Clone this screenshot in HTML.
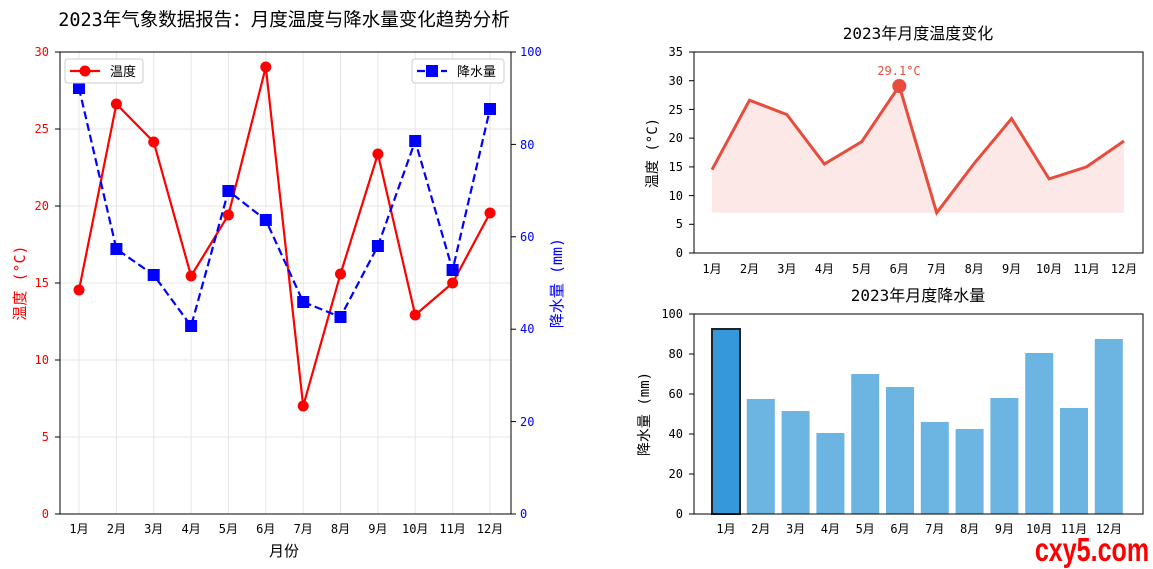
<!DOCTYPE html>
<html><head><meta charset="utf-8"><style>
html,body{margin:0;padding:0;background:#fff;}
svg{display:block;font-family:"DejaVu Sans Mono","Noto Sans CJK SC",monospace;}
</style></head><body>
<svg width="1153" height="569" viewBox="0 0 1153 569" xmlns="http://www.w3.org/2000/svg">
<text x="284" y="26" font-size="18.5" text-anchor="middle" fill="#000">2023年气象数据报告：月度温度与降水量变化趋势分析</text>

<!-- LEFT CHART -->
<g stroke="#e6e6e6" stroke-width="1">
<line x1="60" y1="437" x2="511" y2="437"/><line x1="60" y1="360" x2="511" y2="360"/><line x1="60" y1="283" x2="511" y2="283"/><line x1="60" y1="206" x2="511" y2="206"/><line x1="60" y1="129" x2="511" y2="129"/>
<line x1="79" y1="52" x2="79" y2="514"/><line x1="116.4" y1="52" x2="116.4" y2="514"/><line x1="153.7" y1="52" x2="153.7" y2="514"/><line x1="191.1" y1="52" x2="191.1" y2="514"/><line x1="228.4" y1="52" x2="228.4" y2="514"/><line x1="265.8" y1="52" x2="265.8" y2="514"/><line x1="303.2" y1="52" x2="303.2" y2="514"/><line x1="340.5" y1="52" x2="340.5" y2="514"/><line x1="377.9" y1="52" x2="377.9" y2="514"/><line x1="415.2" y1="52" x2="415.2" y2="514"/><line x1="452.6" y1="52" x2="452.6" y2="514"/><line x1="490" y1="52" x2="490" y2="514"/>
</g>
<rect x="60" y="52" width="451" height="462" fill="none" stroke="#000" stroke-width="1"/>
<g fill="red" font-size="12" text-anchor="end">
<text x="49" y="518">0</text><text x="49" y="441">5</text><text x="49" y="364">10</text><text x="49" y="287">15</text><text x="49" y="210">20</text><text x="49" y="133">25</text><text x="49" y="56">30</text>
</g>
<g stroke="#000"><line x1="55" y1="514" x2="60" y2="514"/><line x1="55" y1="437" x2="60" y2="437"/><line x1="55" y1="360" x2="60" y2="360"/><line x1="55" y1="283" x2="60" y2="283"/><line x1="55" y1="206" x2="60" y2="206"/><line x1="55" y1="129" x2="60" y2="129"/><line x1="55" y1="52" x2="60" y2="52"/>
<line x1="511" y1="514" x2="516" y2="514"/><line x1="511" y1="421.6" x2="516" y2="421.6"/><line x1="511" y1="329.2" x2="516" y2="329.2"/><line x1="511" y1="236.8" x2="516" y2="236.8"/><line x1="511" y1="144.4" x2="516" y2="144.4"/><line x1="511" y1="52" x2="516" y2="52"/></g>
<g fill="blue" font-size="12"><text x="520" y="518">0</text><text x="520" y="426">20</text><text x="520" y="333">40</text><text x="520" y="241">60</text><text x="520" y="149">80</text><text x="520" y="56">100</text></g>
<g font-size="12" text-anchor="middle" fill="#000">
<text x="79" y="533">1月</text><text x="116.4" y="533">2月</text><text x="153.7" y="533">3月</text><text x="191.1" y="533">4月</text><text x="228.4" y="533">5月</text><text x="265.8" y="533">6月</text><text x="303.2" y="533">7月</text><text x="340.5" y="533">8月</text><text x="377.9" y="533">9月</text><text x="415.2" y="533">10月</text><text x="452.6" y="533">11月</text><text x="490" y="533">12月</text>
</g>
<text x="284" y="556" font-size="15" text-anchor="middle">月份</text>
<text transform="translate(25,283) rotate(-90)" font-size="15" fill="red" text-anchor="middle">温度 (°C)</text>
<text transform="translate(562,283) rotate(-90)" font-size="15" fill="blue" text-anchor="middle">降水量 (mm)</text>

<polyline fill="none" stroke="red" stroke-width="2.2" points="79,290 116.4,104 153.7,142 191.1,276 228.4,215 265.8,67 303.2,406 340.5,274 377.9,154 415.2,315 452.6,283 490,213"/>
<g fill="red"><circle cx="79" cy="290" r="5.5"/><circle cx="116.4" cy="104" r="5.5"/><circle cx="153.7" cy="142" r="5.5"/><circle cx="191.1" cy="276" r="5.5"/><circle cx="228.4" cy="215" r="5.5"/><circle cx="265.8" cy="67" r="5.5"/><circle cx="303.2" cy="406" r="5.5"/><circle cx="340.5" cy="274" r="5.5"/><circle cx="377.9" cy="154" r="5.5"/><circle cx="415.2" cy="315" r="5.5"/><circle cx="452.6" cy="283" r="5.5"/><circle cx="490" cy="213" r="5.5"/></g>
<polyline fill="none" stroke="blue" stroke-width="2.2" stroke-dasharray="8,4" points="79,88 116.4,249 153.7,275 191.1,326 228.4,191 265.8,220 303.2,302 340.5,317 377.9,246 415.2,141 452.6,270 490,109"/>
<g fill="blue"><rect x="73" y="82" width="12" height="12"/><rect x="110.4" y="243" width="12" height="12"/><rect x="147.7" y="269" width="12" height="12"/><rect x="185.1" y="320" width="12" height="12"/><rect x="222.4" y="185" width="12" height="12"/><rect x="259.8" y="214" width="12" height="12"/><rect x="297.2" y="296" width="12" height="12"/><rect x="334.5" y="311" width="12" height="12"/><rect x="371.9" y="240" width="12" height="12"/><rect x="409.2" y="135" width="12" height="12"/><rect x="446.6" y="264" width="12" height="12"/><rect x="484" y="103" width="12" height="12"/></g>

<rect x="65" y="59" width="78" height="24" rx="3" fill="#fff" stroke="#ccc"/>
<line x1="70" y1="71" x2="100" y2="71" stroke="red" stroke-width="2.2"/><circle cx="85" cy="71" r="5.5" fill="red"/>
<text x="110" y="76" font-size="13">温度</text>
<rect x="412" y="59" width="92" height="24" rx="3" fill="#fff" stroke="#ccc"/>
<line x1="417" y1="71" x2="447" y2="71" stroke="blue" stroke-width="2.2" stroke-dasharray="8,4"/><rect x="426" y="65" width="12" height="12" fill="blue"/>
<text x="457" y="76" font-size="13">降水量</text>

<!-- TOP RIGHT -->
<text x="918" y="39" font-size="16" text-anchor="middle">2023年月度温度变化</text>
<polygon fill="#e74c3c" fill-opacity="0.12" points="712,169.7 749.5,100.2 786.9,114.6 824.4,164 861.8,141.6 899.3,85.9 936.7,212.8 974.2,163.4 1011.6,118.6 1049.1,178.9 1086.5,166.9 1124,141 1124,212.8 712,212.8"/>
<polyline fill="none" stroke="#e74c3c" stroke-width="3" points="712,169.7 749.5,100.2 786.9,114.6 824.4,164 861.8,141.6 899.3,85.9 936.7,212.8 974.2,163.4 1011.6,118.6 1049.1,178.9 1086.5,166.9 1124,141"/>
<circle cx="899.3" cy="86" r="7" fill="#e74c3c"/>
<text x="899" y="75" font-size="12" fill="#e74c3c" text-anchor="middle">29.1°C</text>
<rect x="694" y="52" width="449" height="201" fill="none" stroke="#000"/>
<g font-size="12" text-anchor="end"><text x="683" y="257">0</text><text x="683" y="228">5</text><text x="683" y="200">10</text><text x="683" y="171">15</text><text x="683" y="142">20</text><text x="683" y="114">25</text><text x="683" y="85">30</text><text x="683" y="56">35</text></g>
<g stroke="#000"><line x1="689" y1="253" x2="694" y2="253"/><line x1="689" y1="224.3" x2="694" y2="224.3"/><line x1="689" y1="195.6" x2="694" y2="195.6"/><line x1="689" y1="166.9" x2="694" y2="166.9"/><line x1="689" y1="138.1" x2="694" y2="138.1"/><line x1="689" y1="109.4" x2="694" y2="109.4"/><line x1="689" y1="80.7" x2="694" y2="80.7"/><line x1="689" y1="52" x2="694" y2="52"/></g>
<g font-size="12" text-anchor="middle"><text x="712" y="273">1月</text><text x="749.5" y="273">2月</text><text x="786.9" y="273">3月</text><text x="824.4" y="273">4月</text><text x="861.8" y="273">5月</text><text x="899.3" y="273">6月</text><text x="936.7" y="273">7月</text><text x="974.2" y="273">8月</text><text x="1011.6" y="273">9月</text><text x="1049.1" y="273">10月</text><text x="1086.5" y="273">11月</text><text x="1124" y="273">12月</text></g>
<text transform="translate(657,153) rotate(-90)" font-size="14" text-anchor="middle">温度 (°C)</text>

<!-- BOTTOM RIGHT -->
<text x="918" y="301" font-size="16" text-anchor="middle">2023年月度降水量</text>
<g fill="#6cb4e2">
<rect x="746.8" y="399" width="28" height="115"/><rect x="781.6" y="411" width="28" height="103"/><rect x="816.4" y="433" width="28" height="81"/><rect x="851.2" y="374" width="28" height="140"/><rect x="886" y="387" width="28" height="127"/><rect x="920.8" y="422" width="28" height="92"/><rect x="955.6" y="429" width="28" height="85"/><rect x="990.4" y="398" width="28" height="116"/><rect x="1025.2" y="353" width="28" height="161"/><rect x="1060" y="408" width="28" height="106"/><rect x="1094.8" y="339" width="28" height="175"/>
</g>
<rect x="712" y="329" width="28" height="185" fill="#3498db" stroke="#222" stroke-width="2"/>
<rect x="694" y="314" width="449" height="200" fill="none" stroke="#000"/>
<g font-size="12" text-anchor="end"><text x="683" y="518">0</text><text x="683" y="478">20</text><text x="683" y="438">40</text><text x="683" y="398">60</text><text x="683" y="358">80</text><text x="683" y="318">100</text></g>
<g stroke="#000"><line x1="689" y1="514" x2="694" y2="514"/><line x1="689" y1="474" x2="694" y2="474"/><line x1="689" y1="434" x2="694" y2="434"/><line x1="689" y1="394" x2="694" y2="394"/><line x1="689" y1="354" x2="694" y2="354"/><line x1="689" y1="314" x2="694" y2="314"/></g>
<g font-size="12" text-anchor="middle"><text x="726" y="533">1月</text><text x="760.8" y="533">2月</text><text x="795.6" y="533">3月</text><text x="830.4" y="533">4月</text><text x="865.2" y="533">5月</text><text x="900" y="533">6月</text><text x="934.8" y="533">7月</text><text x="969.6" y="533">8月</text><text x="1004.4" y="533">9月</text><text x="1039.2" y="533">10月</text><text x="1074" y="533">11月</text><text x="1108.8" y="533">12月</text></g>
<text transform="translate(649,414) rotate(-90)" font-size="14" text-anchor="middle">降水量 (mm)</text>

<text x="1092" y="561" font-family="Liberation Sans, sans-serif" font-weight="bold" font-size="33" fill="#ff0000" text-anchor="middle" transform="translate(1092,0) scale(0.76,1) translate(-1092,0)">cxy5.com</text>
</svg>
</body></html>
